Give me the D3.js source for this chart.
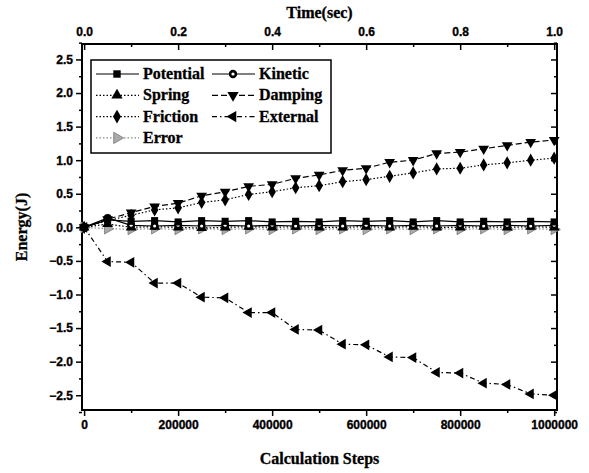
<!DOCTYPE html>
<html>
<head>
<meta charset="utf-8">
<script src="https://cdn.jsdelivr.net/npm/d3@7"></script>
<style>
  body { margin: 0; background: #fff; }
  svg { display: block; }
</style>
</head>
<body>
<svg width="589" height="473"></svg>
<script>
// calculation steps (every 50000)
const steps = [0, 50000, 100000, 150000, 200000, 250000, 300000, 350000, 400000, 450000, 500000,
  550000, 600000, 650000, 700000, 750000, 800000, 850000, 900000, 950000, 1000000];

const potential = [0.0, 0.11, 0.09, 0.10, 0.08, 0.10, 0.09, 0.10, 0.08, 0.09, 0.08, 0.10, 0.09, 0.10, 0.08, 0.10, 0.08, 0.09, 0.08, 0.09, 0.08];
const kinetic   = [0.0, 0.14, 0.03, 0.02, 0.03, 0.02, 0.03, 0.02, 0.03, 0.02, 0.03, 0.02, 0.03, 0.02, 0.03, 0.02, 0.03, 0.02, 0.03, 0.02, 0.03];
const spring    = [0.0, 0.05, 0.0, 0.01, 0.0, -0.01, 0.0, 0.01, 0.0, 0.01, 0.0, 0.0, 0.01, 0.0, 0.01, 0.0, 0.0, 0.01, 0.0, 0.01, 0.0];
const damping   = [0.0, 0.12, 0.22, 0.31, 0.36, 0.47, 0.53, 0.61, 0.64, 0.73, 0.78, 0.85, 0.88, 0.97, 1.00, 1.10, 1.12, 1.17, 1.22, 1.27, 1.30];
const friction  = [0.0, 0.10, 0.18, 0.26, 0.29, 0.37, 0.41, 0.49, 0.53, 0.59, 0.62, 0.68, 0.71, 0.76, 0.81, 0.87, 0.88, 0.93, 0.96, 1.00, 1.03];
const external  = [0.0, -0.51, -0.52, -0.83, -0.83, -1.04, -1.05, -1.27, -1.27, -1.52, -1.53, -1.74, -1.75, -1.93, -1.94, -2.16, -2.17, -2.32, -2.34, -2.48, -2.50];
const errorE    = [0.0, -0.02, -0.03, -0.02, -0.03, -0.02, -0.03, -0.02, -0.03, -0.02, -0.03, -0.02, -0.03, -0.02, -0.03, -0.02, -0.03, -0.02, -0.03, -0.02, -0.03];

const yTicks = [-2.5, -2.0, -1.5, -1.0, -0.5, 0.0, 0.5, 1.0, 1.5, 2.0, 2.5];
const xTicks = [0, 200000, 400000, 600000, 800000, 1000000];
const timeTicks = [0.0, 0.2, 0.4, 0.6, 0.8, 1.0];

const series = [
  { name: 'Potential', values: potential, sym: d3.symbolSquare, fill: '#000', dash: null, color: '#000' },
  { name: 'Kinetic', values: kinetic, sym: d3.symbolCircle, fill: 'ring', dash: null, color: '#000' },
  { name: 'Spring', values: spring, sym: d3.symbolTriangle, fill: '#000', dash: '1.5,2', color: '#000' },
  { name: 'Damping', values: damping, sym: d3.symbolTriangle, rot: 180, fill: '#000', dash: '6,3', color: '#000' },
  { name: 'Friction', values: friction, sym: d3.symbolDiamond, fill: '#000', dash: '1.5,2', color: '#000' },
  { name: 'External', values: external, sym: d3.symbolTriangle, rot: -90, fill: '#000', dash: '5,3,1.5,3', color: '#000' },
  { name: 'Error', values: errorE, sym: d3.symbolTriangle, rot: 90, fill: '#aaa', dash: '1.5,2', color: '#888' }
];

const svg = d3.select('svg');
const margin = { top: 44, right: 32, bottom: 63, left: 82 };
const W = 589, H = 473;
const iw = W - margin.left - margin.right, ih = H - margin.top - margin.bottom;
const g = svg.append('g').attr('transform', `translate(${margin.left},${margin.top})`);

const x = d3.scaleLinear().domain([-4500, 1006000]).range([0, iw]);
const xt = d3.scaleLinear().domain([-0.0045, 1.006]).range([0, iw]);
const y = d3.scaleLinear().domain([-2.72, 2.73]).range([ih, 0]);

const tickFont = 'bold 12px "Liberation Sans", Arial, sans-serif';
const titleFont = 'bold 16px "Liberation Serif", "Times New Roman", serif';

// minor ticks
const yMinor = d3.range(-2.75, 2.76, 0.25).filter(v => Math.abs((v * 2) % 1) > 0.01);
const xMinor = [100000, 300000, 500000, 700000, 900000];
const tMinor = [0.1, 0.3, 0.5, 0.7, 0.9];

function styleAxis(sel) {
  sel.select('.domain').remove();
  sel.selectAll('line').attr('stroke', '#000').attr('stroke-width', 1.5);
  sel.selectAll('text').style('font', tickFont).attr('fill', '#000')
    .attr('stroke', '#000').attr('stroke-width', 0.35);
}

// left
g.append('g').call(d3.axisLeft(y).tickValues(yTicks).tickFormat(d3.format('.1f')).tickSize(6).tickPadding(3)).call(styleAxis);
g.append('g').call(d3.axisLeft(y).tickValues(yMinor).tickFormat('').tickSize(3)).call(styleAxis);
// right (inward)
g.append('g').attr('transform', `translate(${iw},0)`).call(d3.axisLeft(y).tickValues(yTicks).tickFormat('').tickSize(6)).call(styleAxis);
g.append('g').attr('transform', `translate(${iw},0)`).call(d3.axisLeft(y).tickValues(yMinor).tickFormat('').tickSize(3)).call(styleAxis);
// bottom
g.append('g').attr('transform', `translate(0,${ih})`).call(d3.axisBottom(x).tickValues(xTicks).tickFormat(d3.format('d')).tickSize(6).tickPadding(4)).call(styleAxis);
g.append('g').attr('transform', `translate(0,${ih})`).call(d3.axisBottom(x).tickValues(xMinor).tickFormat('').tickSize(3)).call(styleAxis);
// top
g.append('g').call(d3.axisTop(xt).tickValues(timeTicks).tickFormat(d3.format('.1f')).tickSize(0).tickPadding(8)).call(styleAxis);
g.append('g').call(d3.axisBottom(xt).tickValues(timeTicks).tickFormat('').tickSize(6)).call(styleAxis);
g.append('g').call(d3.axisBottom(xt).tickValues(tMinor).tickFormat('').tickSize(3)).call(styleAxis);

// frame
g.append('rect').attr('width', iw).attr('height', ih)
  .attr('fill', 'none').attr('stroke', '#000').attr('stroke-width', 2);

// lines
const line = d3.line().x((d, i) => x(steps[i])).y(d => y(d));

function drawMarker(sel, s, size) {
  if (s.fill === 'ring') {
    sel.append('path').attr('d', d3.symbol().type(d3.symbolCircle).size(size)())
      .attr('fill', '#000');
    sel.append('path').attr('d', d3.symbol().type(d3.symbolCircle).size(size * 0.15)())
      .attr('fill', '#fff');
  } else {
    sel.append('path').attr('d', d3.symbol().type(s.sym).size(size)())
      .attr('transform', s.rot ? `rotate(${s.rot})` : null)
      .attr('fill', s.fill).attr('stroke', s.name === 'Error' ? '#777' : 'none').attr('stroke-width', 0.8);
  }
}

// draw order: bottom layers first
const order = ['Error', 'Spring', 'Kinetic', 'Potential', 'Friction', 'Damping', 'External'];
order.forEach(name => {
  const s = series.find(d => d.name === name);
  g.append('path').datum(s.values)
    .attr('d', line)
    .attr('fill', 'none')
    .attr('stroke', s.color)
    .attr('stroke-width', 1.2)
    .attr('stroke-dasharray', s.dash);
  const mk = g.append('g').selectAll('g').data(s.values).join('g')
    .attr('transform', (d, i) => `translate(${x(steps[i])},${y(d)})`);
  mk.each(function () { drawMarker(d3.select(this), s, 50); });
});

// legend
const lg = g.append('g').attr('transform', `translate(${91 - margin.left},${60 - margin.top})`);
lg.append('rect').attr('width', 240).attr('height', 93)
  .attr('fill', '#fff').attr('stroke', '#000').attr('stroke-width', 1.5);
series.forEach((s, i) => {
  const col = i % 2, row = Math.floor(i / 2);
  const cx = col === 0 ? 26 : 142;
  const cy = 14 + row * 21.3;
  const item = lg.append('g').attr('transform', `translate(${cx},${cy})`);
  item.append('line').attr('x1', -21).attr('x2', 22)
    .attr('stroke', s.color).attr('stroke-width', 1.2).attr('stroke-dasharray', s.dash);
  drawMarker(item, s, 55);
  item.append('text').attr('x', 26).attr('y', 5)
    .style('font', titleFont).attr('stroke', '#000').attr('stroke-width', 0.3).text(s.name);
});

// titles
svg.append('text').attr('x', margin.left + iw / 2).attr('y', 18).attr('text-anchor', 'middle')
  .style('font', titleFont).attr('stroke', '#000').attr('stroke-width', 0.3).text('Time(sec)');
svg.append('text').attr('x', margin.left + iw / 2).attr('y', 464).attr('text-anchor', 'middle')
  .style('font', titleFont).attr('stroke', '#000').attr('stroke-width', 0.3).text('Calculation Steps');
svg.append('text').attr('transform', `translate(27,${margin.top + ih / 2}) rotate(-90)`)
  .attr('text-anchor', 'middle').style('font', titleFont).attr('stroke', '#000').attr('stroke-width', 0.3).text('Energy(J)');
</script>
</body>
</html>
